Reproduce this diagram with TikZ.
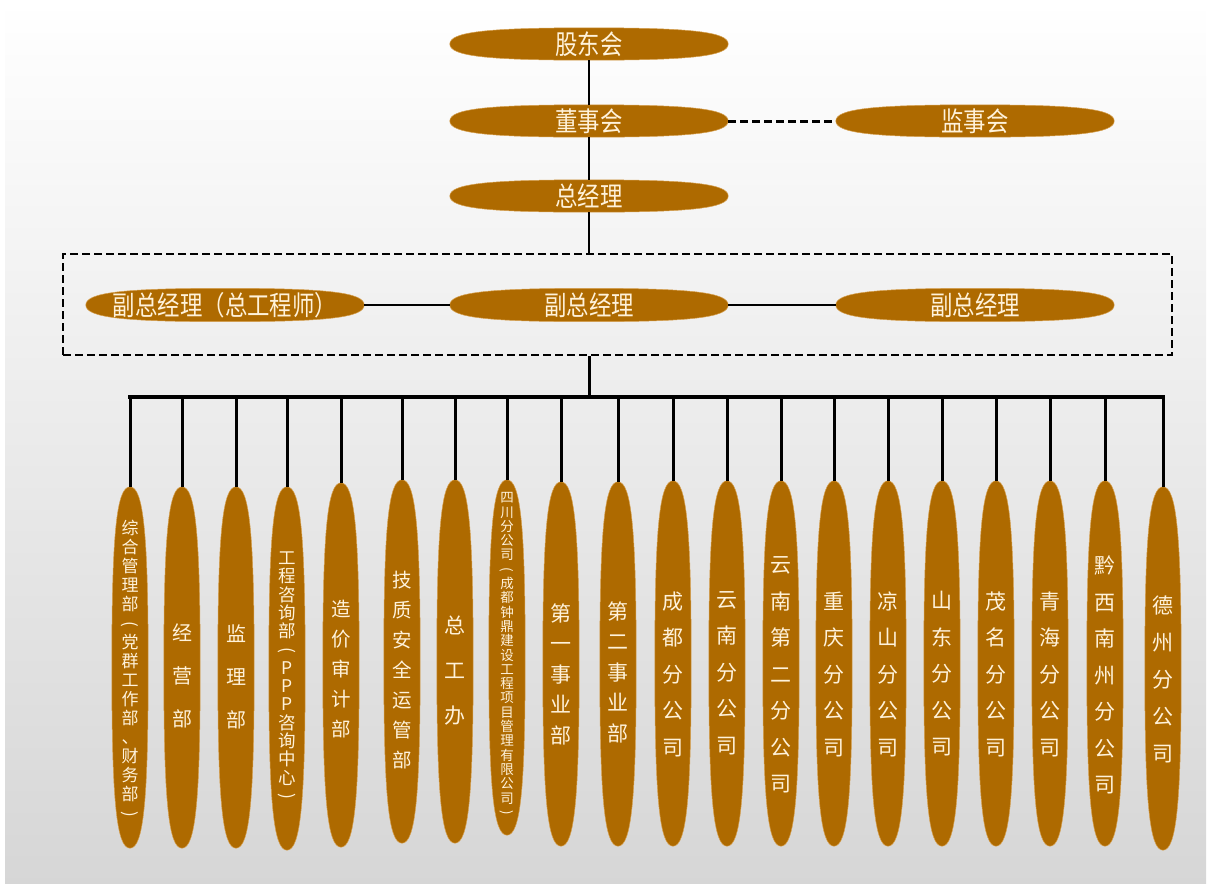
\documentclass[tikz,border=0pt]{standalone}
\usepackage{fontspec}
\newfontfamily\cjk{Noto Sans CJK SC}
\usetikzlibrary{calc}
\definecolor{brn}{RGB}{174,106,0}
\definecolor{brnedge}{RGB}{214,160,80}
\definecolor{txtc}{RGB}{255,242,218}
\newcommand\sqz[1]{\scalebox{0.83}[1]{#1}}
\newcommand\lp{\rotatebox[origin=c]{-90}{(}}
\newcommand\rp{\rotatebox[origin=c]{-90}{)}}
\def\kk{0.74}
\newcommand\blob[1]{%
  \filldraw[fill=brn, draw=brnedge, line width=0.5pt]
    (#1.east) .. controls ($(#1.east)!\kk!(#1.north east)$) and ($(#1.north)!\kk!(#1.north east)$) .. (#1.north)
    .. controls ($(#1.north)!\kk!(#1.north west)$) and ($(#1.west)!\kk!(#1.north west)$) .. (#1.west)
    .. controls ($(#1.west)!\kk!(#1.south west)$) and ($(#1.south)!\kk!(#1.south west)$) .. (#1.south)
    .. controls ($(#1.south)!\kk!(#1.south east)$) and ($(#1.east)!\kk!(#1.south east)$) .. (#1.east) -- cycle;}
\tikzset{
  pill/.style={rectangle, inner sep=0pt, minimum width=278pt, minimum height=32pt},
  tall/.style={rectangle, inner sep=0pt, minimum width=36pt},
  toptxt/.style={text=txtc, inner sep=0pt, font=\cjk\fontsize{27}{30}\selectfont},
  vtxt/.style={text=txtc, inner sep=0pt, align=center},
  link/.style={line width=2.5pt, black},
  dlink/.style={line width=3pt, black, dash pattern=on 8pt off 4pt},
  busline/.style={line width=3.2pt, black, line cap=rect},
  drop/.style={line width=3pt, black},
}
\begin{document}
\begin{tikzpicture}[x=1pt,y=-1pt]
\useasboundingbox (0,0) rectangle (1211,884);
\shade[top color=white, middle color=black!4, bottom color=black!16] (5,0) rectangle (1206,884);

% top chain
\node[pill] (gd) at (589,44) {};
\node[pill] (dsh) at (589,121) {};
\node[pill] (jsh) at (975,121) {};
\node[pill] (zjl) at (589,196) {};
\node[draw, line width=2.8pt, dash pattern=on 8pt off 4pt, minimum width=1109pt, minimum height=101pt, inner sep=0pt] (box) at (617.5,304.5) {};
\node[pill, minimum height=33pt] (f1) at (225,305) {};
\node[pill, minimum height=33pt] (f2) at (589,305) {};
\node[pill, minimum height=33pt] (f3) at (975,305) {};
\foreach \n in {gd,dsh,jsh,zjl,f1,f2,f3} {\blob{\n}}
\node[toptxt] (gdt) at (gd) {\sqz{股东会}};
\node[toptxt] (dsht) at (dsh) {\sqz{董事会}};
\node[toptxt] (jsht) at (jsh) {\sqz{监事会}};
\node[toptxt] (zjlt) at (zjl) {\sqz{总经理}};
\node[toptxt] (f1t) at (f1) {\sqz{副总经理（总工程师）}};
\node[toptxt] (f2t) at (f2) {\sqz{副总经理}};
\node[toptxt] (f3t) at (f3) {\sqz{副总经理}};

\draw[link] (gd.south) -- (dsh.north);
\draw[link] (dsh.south) -- (zjl.north);
\draw[link] (zjl.south) -- (zjl.south |- box.north);
\draw[dlink] (dsh.east) -- (jsh.west);
\draw[line width=2.5pt] (f1.east) -- (f2.west);
\draw[line width=2.5pt] (f2.east) -- (f3.west);

% tall ellipses
\node[tall, minimum height=361pt] (e1) at (130,667.5) {};
\node[tall, minimum height=361pt] (e2) at (182,667.5) {};
\node[tall, minimum height=361pt] (e3) at (236,667.5) {};
\node[tall, minimum height=363pt] (e4) at (287,668.5) {};
\node[tall, minimum height=364pt] (e5) at (341,665) {};
\node[tall, minimum height=363pt] (e6) at (402,661.5) {};
\node[tall, minimum height=363pt] (e7) at (455,661.5) {};
\node[tall, minimum height=355pt] (e8) at (507,657.5) {};
\node[tall, minimum height=364pt] (e9) at (561,664) {};
\node[tall, minimum height=364pt] (e10) at (618,664) {};
\node[tall, minimum height=365pt] (e11) at (673,663.5) {};
\node[tall, minimum height=365pt] (e12) at (727,663.5) {};
\node[tall, minimum height=365pt] (e13) at (781,663.5) {};
\node[tall, minimum height=365pt] (e14) at (834,663.5) {};
\node[tall, minimum height=365pt] (e15) at (888,663.5) {};
\node[tall, minimum height=365pt] (e16) at (942,663.5) {};
\node[tall, minimum height=365pt] (e17) at (996,663.5) {};
\node[tall, minimum height=365pt] (e18) at (1050,663.5) {};
\node[tall, minimum height=365pt] (e19) at (1105,663.5) {};
\node[tall, minimum height=363pt] (e20) at (1163,668.5) {};
\foreach \i in {1,...,20} {\blob{e\i}}

% bus
\coordinate (busL) at (130,397);
\coordinate (busR) at (1163,397);
\draw[drop] (f2 |- box.south) -- (f2 |- busL);
\draw[busline] (e1.north |- busL) -- (e20.north |- busR);
\foreach \i in {1,...,20} {\draw[drop] (e\i.north |- busL) -- (e\i.north);}

% vertical texts
\node[vtxt, font=\cjk\fontsize{17}{19}\selectfont] (t1) at (130,670) {综\\合\\管\\理\\部\\\lp\\党\\群\\工\\作\\部\\、\\财\\务\\部\\\rp};
\node[vtxt, font=\cjk\fontsize{20}{43}\selectfont] (t2) at (182,676) {经\\营\\部};
\node[vtxt, font=\cjk\fontsize{20}{43}\selectfont] (t3) at (236,677) {监\\理\\部};
\node[vtxt, font=\cjk\fontsize{17.5}{18.3}\selectfont] (t4) at (287,677) {工\\程\\咨\\询\\部\\\lp\\P\\P\\P\\咨\\询\\中\\心\\\rp};
\node[vtxt, font=\cjk\fontsize{19.5}{30}\selectfont] (t5) at (341,669) {造\\价\\审\\计\\部};
\node[vtxt, font=\cjk\fontsize{19.5}{30}\selectfont] (t6) at (402,670) {技\\质\\安\\全\\运\\管\\部};
\node[vtxt, font=\cjk\fontsize{21}{45}\selectfont] (t7) at (455,671) {总\\工\\办};
\node[vtxt, font=\cjk\fontsize{13.5}{14.3}\selectfont] (t8) at (507,655) {四\\川\\分\\公\\司\\\lp\\成\\都\\钟\\鼎\\建\\设\\工\\程\\项\\目\\管\\理\\有\\限\\公\\司\\\rp};
\node[vtxt, font=\cjk\fontsize{21}{30.5}\selectfont] (t9) at (561,674) {第\\一\\事\\业\\部};
\node[vtxt, font=\cjk\fontsize{21}{30.5}\selectfont] (t10) at (618,672) {第\\二\\事\\业\\部};
\node[vtxt, font=\cjk\fontsize{21}{36.5}\selectfont] (t11) at (673,674) {成\\都\\分\\公\\司};
\node[vtxt, font=\cjk\fontsize{21}{36.5}\selectfont] (t12) at (727,673) {云\\南\\分\\公\\司};
\node[vtxt, font=\cjk\fontsize{21}{36.5}\selectfont] (t13) at (781,675) {云\\南\\第\\二\\分\\公\\司};
\node[vtxt, font=\cjk\fontsize{21}{36.5}\selectfont] (t14) at (834,674) {重\\庆\\分\\公\\司};
\node[vtxt, font=\cjk\fontsize{21}{36.5}\selectfont] (t15) at (888,674) {凉\\山\\分\\公\\司};
\node[vtxt, font=\cjk\fontsize{21}{36.5}\selectfont] (t16) at (942,674) {山\\东\\分\\公\\司};
\node[vtxt, font=\cjk\fontsize{21}{36.5}\selectfont] (t17) at (996,674) {茂\\名\\分\\公\\司};
\node[vtxt, font=\cjk\fontsize{21}{36.5}\selectfont] (t18) at (1050,674) {青\\海\\分\\公\\司};
\node[vtxt, font=\cjk\fontsize{21}{36.5}\selectfont] (t19) at (1105,675) {黔\\西\\南\\州\\分\\公\\司};
\node[vtxt, font=\cjk\fontsize{21}{37}\selectfont] (t20) at (1163,679) {德\\州\\分\\公\\司};
\end{tikzpicture}
\end{document}
